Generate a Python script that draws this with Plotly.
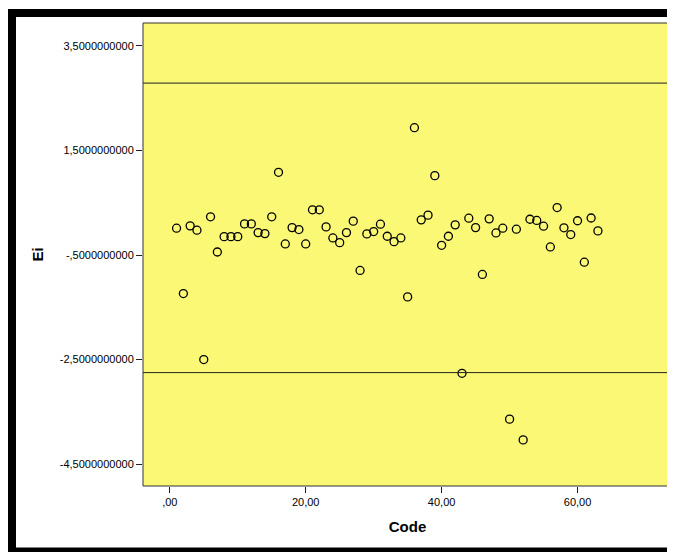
import plotly.graph_objects as go

codes = list(range(1, 64))
ei = [0.013, -1.237, 0.058, -0.025, -2.50, 0.231, -0.442, -0.148, -0.148, -0.148,
      0.096, 0.096, -0.071, -0.090, 0.231, 1.083, -0.288, 0.025, -0.013, -0.288,
      0.365, 0.365, 0.038, -0.173, -0.263, -0.071, 0.148, -0.795, -0.096, -0.051,
      0.090, -0.141, -0.244, -0.173, -1.301, 1.936, 0.173, 0.263, 1.019, -0.314,
      -0.141, 0.077, -2.763, 0.205, 0.025, -0.872, 0.192, -0.077, 0.013, -3.641,
      -0.006, -4.038, 0.185, 0.162, 0.052, -0.346, 0.408, 0.021, -0.108, 0.156,
      -0.637, 0.208, -0.038]

ref_lines = [2.79, -2.75]

x_tickvals = [0, 20, 40, 60]
x_ticktext = [",00", "20,00", "40,00", "60,00"]
y_tickvals = [3.5, 1.5, -0.5, -2.5, -4.5]
y_ticktext = ["3,5000000000", "1,5000000000", "-,5000000000", "-2,5000000000", "-4,5000000000"]

fig = go.Figure()
fig.add_trace(go.Scatter(
    x=codes, y=ei, mode="markers",
    marker=dict(symbol="circle-open", size=8, color="black", line=dict(width=1.3, color="#1a1a1a")),
    hoverinfo="x+y", showlegend=False,
))

shapes = []
for v in ref_lines:
    shapes.append(dict(type="line", xref="paper", yref="y", x0=0, x1=1, y0=v, y1=v,
                       line=dict(color="#222222", width=1)))

# page offset of the plot div (body margin)
OFF = 8
FW, FH = 675 - OFF, 552 - OFF
L, R, T, B = 143 - OFF, 672 - OFF, 23 - OFF, 486 - OFF
W, H = float(R - L), float(B - T)
def px(xp):
    return (xp - OFF - L) / W
def py(yp):
    return (B - (yp - OFF)) / H
frame = "black"
shapes.append(dict(type="rect", xref="paper", yref="paper", x0=px(8), x1=px(700), y0=py(9), y1=py(17),
                   fillcolor=frame, line=dict(width=0), layer="above"))
shapes.append(dict(type="rect", xref="paper", yref="paper", x0=px(8), x1=px(16), y0=py(9), y1=py(560),
                   fillcolor=frame, line=dict(width=0), layer="above"))
shapes.append(dict(type="rect", xref="paper", yref="paper", x0=px(8), x1=px(700), y0=py(547.5), y1=py(560),
                   fillcolor=frame, line=dict(width=0), layer="above"))
# plot border
shapes.append(dict(type="rect", xref="paper", yref="paper", x0=0, x1=1, y0=0, y1=1,
                   line=dict(color="#333333", width=1), fillcolor="rgba(0,0,0,0)", layer="above"))

fig.update_layout(
    width=FW, height=FH,
    margin=dict(l=L, r=FW - R, t=T, b=FH - B),
    paper_bgcolor="white",
    plot_bgcolor="#FAF874",
    font=dict(family="Liberation Sans, Arial, sans-serif", color="black", size=11),
    shapes=shapes,
    xaxis=dict(range=[-3.94, 73.9], tickvals=x_tickvals, ticktext=x_ticktext,
               showgrid=False, zeroline=False, ticks="outside", ticklen=6, tickcolor="#222222",
               showline=False,
               title=dict(text="<b>Code</b>", font=dict(size=15), standoff=14)),
    yaxis=dict(range=[-4.92, 3.94], tickvals=y_tickvals, ticktext=y_ticktext,
               showgrid=False, zeroline=False, ticks="outside", ticklen=6, tickcolor="#222222",
               showline=False,
               title=dict(text="<b>Ei</b>", font=dict(size=15), standoff=12)),
)

fig.write_html("out.html")
